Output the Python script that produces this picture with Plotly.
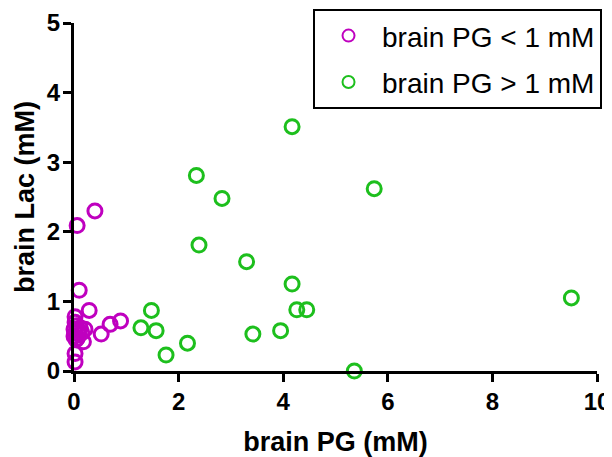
import plotly.graph_objects as go

# purple group: brain PG < 1 mM
low_pg = [0.40, 0.06, 0.10, 0.29, 0.89, 0.69, 0.52, 0.02, 0.18, 0.21,
          0.02, 0.05, 0.00, 0.08, 0.03, 0.10, 0.00, 0.06, 0.12, 0.15, 0.04,
          0.02, 0.02]
low_lac = [2.30, 2.09, 1.16, 0.87, 0.72, 0.67, 0.53, 0.78, 0.42, 0.60,
           0.70, 0.65, 0.60, 0.58, 0.55, 0.52, 0.50, 0.47, 0.62, 0.55, 0.45,
           0.25, 0.13]

# green group: brain PG > 1 mM
high_pg = [4.17, 2.34, 2.83, 5.74, 2.39, 3.30, 4.17, 9.51, 4.26, 4.45,
           1.48, 1.28, 1.57, 3.95, 3.42, 2.17, 1.76, 5.36]
high_lac = [3.51, 2.81, 2.48, 2.62, 1.81, 1.57, 1.25, 1.05, 0.88, 0.88,
            0.87, 0.62, 0.58, 0.58, 0.53, 0.40, 0.23, 0.00]

x_ticks = [0, 2, 4, 6, 8, 10]
y_ticks = [0, 1, 2, 3, 4, 5]

PURPLE = "#BF00BF"
GREEN = "#1DBF1D"

fig = go.Figure()
fig.add_trace(go.Scatter(
    x=low_pg, y=low_lac, mode="markers", name="brain PG < 1 mM",
    legendgroup="a",
    marker=dict(symbol="circle-open", size=14, color=PURPLE,
                line=dict(width=3, color=PURPLE)),
    cliponaxis=False))
fig.add_trace(go.Scatter(
    x=high_pg, y=high_lac, mode="markers", name="brain PG > 1 mM",
    legendgroup="b",
    marker=dict(symbol="circle-open", size=14, color=GREEN,
                line=dict(width=3, color=GREEN)),
    cliponaxis=False))

FONT = "Liberation Sans, Arial, sans-serif"
axis_font = dict(family=FONT, size=24, color="black")
title_font = dict(family=FONT, size=27, color="black")

# the page body adds an 8px offset, so the figure is 604x449
fig.update_layout(
    width=604, height=449,
    margin=dict(l=66, r=15, t=15, b=86, autoexpand=False),
    paper_bgcolor="white", plot_bgcolor="white",
    font=dict(family=FONT, color="black"),
    legend=dict(
        xref="container", yref="container",
        x=0.505, y=0.998, xanchor="left", yanchor="top",
        bordercolor="black", borderwidth=2, bgcolor="white",
        font=dict(family=FONT, size=28, color="black"),
        itemsizing="constant", itemwidth=57, tracegroupgap=7,
    ),
    xaxis=dict(
        range=[0, 10], tickvals=x_ticks,
        ticktext=[f"<b>{v}</b>" for v in x_ticks],
        showline=True, linecolor="black", linewidth=3,
        ticks="outside", ticklen=8, tickwidth=3, tickcolor="black",
        ticklabelstandoff=-1, ticklabeloverflow="allow",
        showgrid=False, zeroline=False, tickfont=axis_font,
        title=dict(text="<b>brain PG (mM)</b>", font=title_font, standoff=27),
    ),
    yaxis=dict(
        range=[0, 5], tickvals=y_ticks,
        ticktext=[f"<b>{v}</b>" for v in y_ticks],
        showline=True, linecolor="black", linewidth=3,
        ticks="outside", ticklen=8, tickwidth=3, tickcolor="black",
        ticklabelstandoff=-2,
        showgrid=False, zeroline=False, tickfont=axis_font,
        title=dict(text="<b>brain Lac (mM)</b>", font=title_font, standoff=5),
    ),
)

fig.write_html("out.html")
